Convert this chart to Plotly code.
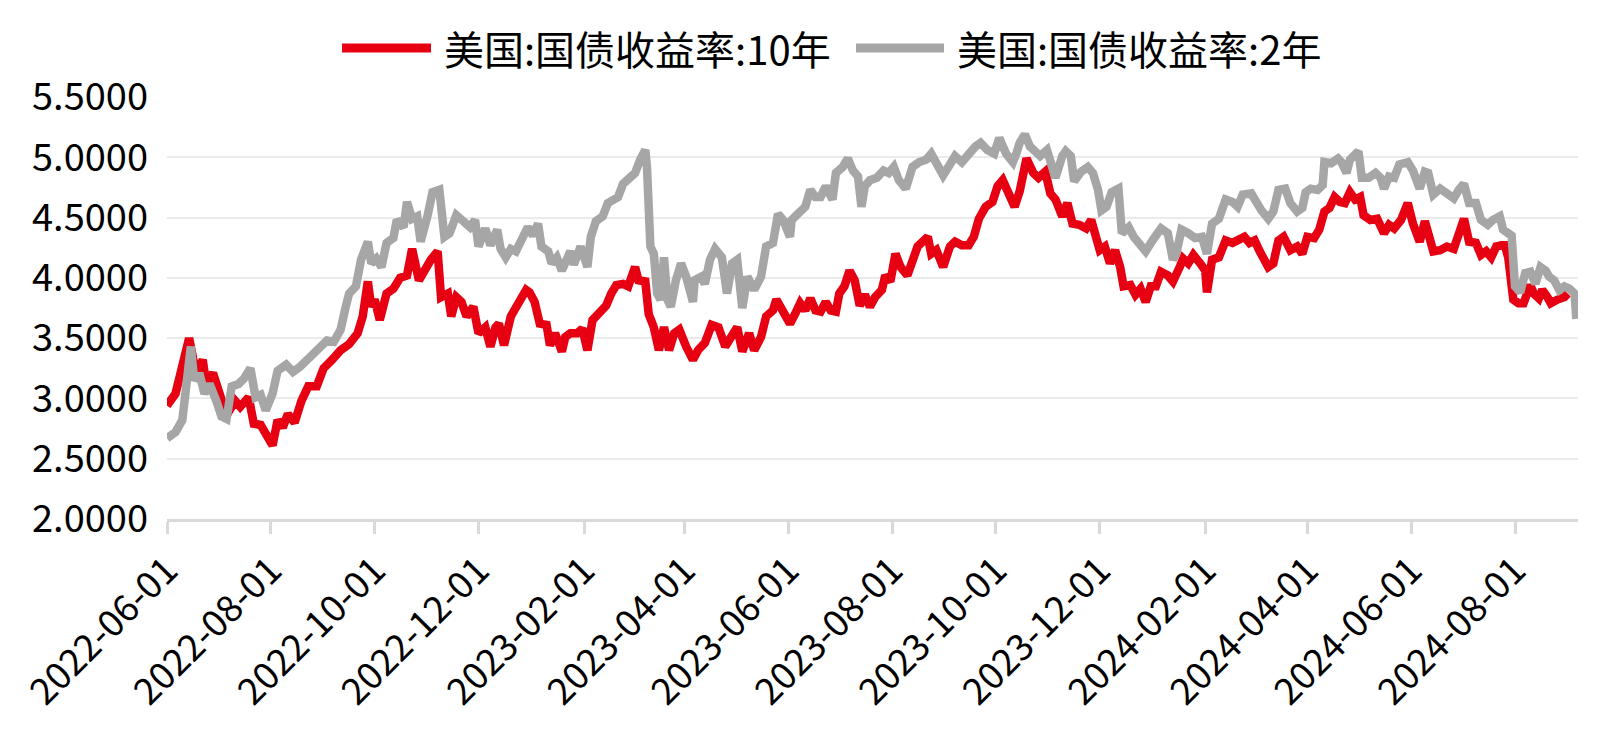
import plotly.graph_objects as go

# ---------------- data ----------------
us10y_dates = [
    "2022-06-01","2022-06-06","2022-06-14","2022-06-18","2022-06-22","2022-06-24","2022-06-28","2022-07-01",
    "2022-07-06","2022-07-11","2022-07-14","2022-07-19","2022-07-22","2022-07-26","2022-07-30","2022-08-02",
    "2022-08-05","2022-08-08","2022-08-11","2022-08-15","2022-08-19","2022-08-23","2022-08-28","2022-09-01",
    "2022-09-06","2022-09-11","2022-09-16","2022-09-21","2022-09-24","2022-09-27","2022-09-29","2022-10-01",
    "2022-10-04","2022-10-08","2022-10-12","2022-10-16","2022-10-20","2022-10-23","2022-10-27","2022-10-31",
    "2022-11-03","2022-11-07","2022-11-09","2022-11-13","2022-11-15","2022-11-18","2022-11-21","2022-11-24",
    "2022-11-28","2022-12-01","2022-12-05","2022-12-08","2022-12-11","2022-12-13","2022-12-16","2022-12-20",
    "2022-12-24","2022-12-29","2022-12-31","2023-01-03","2023-01-06","2023-01-10","2023-01-12","2023-01-15",
    "2023-01-19","2023-01-21","2023-01-24","2023-01-28","2023-01-31","2023-02-03","2023-02-06","2023-02-10",
    "2023-02-14","2023-02-17","2023-02-20","2023-02-24","2023-02-27","2023-03-03","2023-03-05","2023-03-09",
    "2023-03-11","2023-03-14","2023-03-17","2023-03-20","2023-03-23","2023-03-26","2023-03-29","2023-04-02",
    "2023-04-06","2023-04-09","2023-04-13","2023-04-17","2023-04-21","2023-04-25","2023-04-29","2023-05-02",
    "2023-05-05","2023-05-09","2023-05-12","2023-05-16","2023-05-19","2023-05-23","2023-05-25","2023-05-29",
    "2023-06-02","2023-06-05","2023-06-08","2023-06-11","2023-06-14","2023-06-17","2023-06-20","2023-06-23",
    "2023-06-26","2023-06-29","2023-07-01","2023-07-04","2023-07-07","2023-07-10","2023-07-13","2023-07-16",
    "2023-07-19","2023-07-22","2023-07-26","2023-07-28","2023-07-31","2023-08-03","2023-08-06","2023-08-10",
    "2023-08-13","2023-08-16","2023-08-19","2023-08-22","2023-08-24","2023-08-27","2023-08-31","2023-09-04",
    "2023-09-07","2023-09-11","2023-09-15","2023-09-18","2023-09-21","2023-09-25","2023-09-29","2023-10-02",
    "2023-10-05","2023-10-08","2023-10-12","2023-10-15","2023-10-19","2023-10-23","2023-10-26","2023-10-30",
    "2023-11-02","2023-11-05","2023-11-09","2023-11-12","2023-11-15","2023-11-19","2023-11-23","2023-11-26",
    "2023-11-29","2023-12-01","2023-12-04","2023-12-07","2023-12-10","2023-12-13","2023-12-15","2023-12-19",
    "2023-12-22","2023-12-25","2023-12-28","2023-12-31","2024-01-03","2024-01-06","2024-01-10","2024-01-13",
    "2024-01-17","2024-01-19","2024-01-22","2024-01-25","2024-01-29","2024-02-01","2024-02-02","2024-02-05",
    "2024-02-09","2024-02-13","2024-02-17","2024-02-21","2024-02-24","2024-02-27","2024-03-01","2024-03-04",
    "2024-03-06","2024-03-09","2024-03-12","2024-03-15","2024-03-18","2024-03-22","2024-03-26","2024-03-29",
    "2024-04-01","2024-04-05","2024-04-08","2024-04-11","2024-04-14","2024-04-17","2024-04-20","2024-04-23",
    "2024-04-26","2024-04-29","2024-05-02","2024-05-04","2024-05-08","2024-05-12","2024-05-16","2024-05-19",
    "2024-05-22","2024-05-26","2024-05-30","2024-06-02","2024-06-06","2024-06-09","2024-06-11","2024-06-14",
    "2024-06-18","2024-06-22","2024-06-26","2024-06-28","2024-07-02","2024-07-05","2024-07-09","2024-07-12",
    "2024-07-15","2024-07-18","2024-07-21","2024-07-24","2024-07-26","2024-07-28","2024-07-31","2024-08-03",
    "2024-08-06","2024-08-10","2024-08-12","2024-08-15","2024-08-17","2024-08-20","2024-08-22","2024-08-26",
    "2024-08-30","2024-09-01",
]
us10y_values = [
    2.94,3.04,3.50,3.21,3.32,3.12,3.21,3.07,
    2.86,2.98,2.93,3.01,2.79,2.78,2.68,2.61,
    2.82,2.76,2.87,2.80,2.98,3.10,3.10,3.25,
    3.32,3.40,3.45,3.54,3.68,3.97,3.76,3.82,
    3.65,3.87,3.91,4.00,4.02,4.24,3.98,4.09,
    4.15,4.22,3.84,3.87,3.68,3.84,3.80,3.68,
    3.76,3.54,3.59,3.43,3.59,3.62,3.44,3.68,
    3.77,3.90,3.88,3.80,3.62,3.61,3.44,3.54,
    3.39,3.51,3.54,3.54,3.58,3.40,3.65,3.70,
    3.77,3.87,3.94,3.95,3.93,4.09,3.98,3.97,
    3.70,3.59,3.40,3.59,3.40,3.54,3.57,3.43,
    3.32,3.40,3.46,3.61,3.59,3.43,3.54,3.59,
    3.39,3.54,3.40,3.51,3.68,3.73,3.82,3.72,
    3.62,3.70,3.79,3.73,3.83,3.73,3.72,3.80,
    3.73,3.72,3.87,3.93,4.06,3.98,3.77,3.86,
    3.76,3.84,3.90,4.02,3.97,4.20,4.09,4.02,
    4.17,4.26,4.30,4.34,4.20,4.23,4.09,4.26,
    4.30,4.27,4.27,4.34,4.49,4.59,4.63,4.76,
    4.81,4.71,4.59,4.72,4.99,4.87,4.83,4.88,
    4.70,4.65,4.51,4.62,4.45,4.44,4.41,4.48,
    4.34,4.23,4.26,4.12,4.23,4.09,3.93,3.94,
    3.86,3.91,3.80,3.93,3.93,4.05,4.02,3.97,
    4.09,4.16,4.12,4.19,4.12,4.06,3.88,4.15,
    4.17,4.31,4.29,4.31,4.34,4.29,4.31,4.22,
    4.15,4.09,4.12,4.31,4.34,4.23,4.26,4.20,
    4.34,4.33,4.40,4.55,4.58,4.67,4.63,4.62,
    4.71,4.65,4.67,4.52,4.48,4.49,4.37,4.44,
    4.41,4.48,4.62,4.45,4.30,4.47,4.37,4.22,
    4.23,4.26,4.24,4.34,4.49,4.30,4.29,4.19,
    4.22,4.17,4.26,4.27,4.27,4.17,3.82,3.79,
    3.79,3.94,3.87,3.83,3.90,3.84,3.79,3.82,
    3.84,3.87,
]

us2y_dates = [
    "2022-06-01","2022-06-06","2022-06-10","2022-06-13","2022-06-15","2022-06-17","2022-06-20","2022-06-23",
    "2022-06-26","2022-06-30","2022-07-03","2022-07-06","2022-07-09","2022-07-13","2022-07-16","2022-07-20",
    "2022-07-23","2022-07-26","2022-07-29","2022-08-02","2022-08-05","2022-08-10","2022-08-14","2022-08-18",
    "2022-08-22","2022-08-26","2022-08-30","2022-09-03","2022-09-07","2022-09-11","2022-09-14","2022-09-16",
    "2022-09-20","2022-09-23","2022-09-27","2022-09-29","2022-10-02","2022-10-05","2022-10-08","2022-10-12",
    "2022-10-14","2022-10-18","2022-10-20","2022-10-23","2022-10-26","2022-10-28","2022-11-01","2022-11-04",
    "2022-11-08","2022-11-11","2022-11-14","2022-11-18","2022-11-22","2022-11-26","2022-11-29","2022-12-01",
    "2022-12-05","2022-12-08","2022-12-12","2022-12-14","2022-12-17","2022-12-20","2022-12-23","2022-12-27",
    "2022-12-30","2023-01-02","2023-01-05","2023-01-07","2023-01-11","2023-01-13","2023-01-16","2023-01-19",
    "2023-01-22","2023-01-24","2023-01-26","2023-01-28","2023-01-30","2023-02-03","2023-02-05","2023-02-08",
    "2023-02-12","2023-02-15","2023-02-18","2023-02-21","2023-02-24","2023-02-28","2023-03-03","2023-03-06",
    "2023-03-09","2023-03-10","2023-03-12","2023-03-14","2023-03-16","2023-03-18","2023-03-20","2023-03-22",
    "2023-03-24","2023-03-27","2023-03-30","2023-04-02","2023-04-06","2023-04-07","2023-04-11","2023-04-13",
    "2023-04-16","2023-04-19","2023-04-23","2023-04-26","2023-04-29","2023-05-02","2023-05-05","2023-05-08",
    "2023-05-12","2023-05-16","2023-05-19","2023-05-23","2023-05-26","2023-05-29","2023-06-02","2023-06-03",
    "2023-06-07","2023-06-11","2023-06-14","2023-06-17","2023-06-20","2023-06-23","2023-06-27","2023-06-29",
    "2023-07-03","2023-07-06","2023-07-09","2023-07-12","2023-07-14","2023-07-16","2023-07-19","2023-07-23",
    "2023-07-27","2023-07-30","2023-08-02","2023-08-05","2023-08-09","2023-08-13","2023-08-17","2023-08-21",
    "2023-08-24","2023-08-27","2023-08-31","2023-09-04","2023-09-07","2023-09-11","2023-09-15","2023-09-19",
    "2023-09-22","2023-09-26","2023-09-30","2023-10-03","2023-10-07","2023-10-11","2023-10-13","2023-10-15",
    "2023-10-18","2023-10-21","2023-10-24","2023-10-27","2023-10-31","2023-11-03","2023-11-05","2023-11-09",
    "2023-11-11","2023-11-14","2023-11-16","2023-11-20","2023-11-24","2023-11-27","2023-11-30","2023-12-02",
    "2023-12-05","2023-12-08","2023-12-12","2023-12-14","2023-12-18","2023-12-21","2023-12-25","2023-12-28",
    "2024-01-01","2024-01-06","2024-01-10","2024-01-13","2024-01-15","2024-01-18","2024-01-22","2024-01-26",
    "2024-01-30","2024-02-02","2024-02-05","2024-02-09","2024-02-13","2024-02-17","2024-02-20","2024-02-23",
    "2024-02-28","2024-03-02","2024-03-05","2024-03-09","2024-03-12","2024-03-15","2024-03-19","2024-03-22",
    "2024-03-26","2024-03-29","2024-03-31","2024-04-03","2024-04-07","2024-04-10","2024-04-11","2024-04-15",
    "2024-04-19","2024-04-21","2024-04-24","2024-04-26","2024-05-01","2024-05-03","2024-05-07","2024-05-11",
    "2024-05-14","2024-05-16","2024-05-19","2024-05-22","2024-05-25","2024-05-30","2024-06-02","2024-06-06",
    "2024-06-09","2024-06-11","2024-06-14","2024-06-18","2024-06-22","2024-06-26","2024-06-29","2024-07-02",
    "2024-07-05","2024-07-09","2024-07-12","2024-07-16","2024-07-19","2024-07-23","2024-07-25","2024-07-27",
    "2024-07-30","2024-08-01","2024-08-04","2024-08-07","2024-08-10","2024-08-13","2024-08-16","2024-08-19",
    "2024-08-21","2024-08-24","2024-08-27","2024-08-30","2024-09-02","2024-09-05","2024-09-06",
]
us2y_values = [
    2.67,2.72,2.82,3.21,3.43,3.15,3.21,3.04,
    3.12,2.98,2.85,2.83,3.10,3.12,3.16,3.25,
    3.01,3.03,2.90,3.04,3.23,3.28,3.22,3.26,
    3.32,3.37,3.43,3.48,3.47,3.57,3.76,3.87,
    3.93,4.15,4.30,4.12,4.16,4.09,4.29,4.33,
    4.48,4.42,4.63,4.49,4.51,4.30,4.51,4.71,
    4.73,4.34,4.37,4.52,4.47,4.42,4.48,4.26,
    4.41,4.27,4.40,4.24,4.17,4.24,4.22,4.33,
    4.42,4.35,4.45,4.26,4.22,4.12,4.17,4.06,
    4.15,4.22,4.11,4.20,4.26,4.09,4.34,4.47,
    4.51,4.62,4.65,4.67,4.78,4.84,4.87,4.98,
    5.06,4.92,4.26,4.20,3.87,3.82,4.17,3.82,
    3.76,3.98,4.12,4.01,3.80,3.98,4.01,3.95,
    4.15,4.24,4.17,3.87,4.12,4.15,3.75,4.01,
    3.90,4.01,4.26,4.29,4.53,4.48,4.34,4.48,
    4.53,4.59,4.73,4.67,4.67,4.76,4.65,4.87,
    4.92,4.99,4.89,4.84,4.59,4.76,4.81,4.83,
    4.89,4.87,4.92,4.81,4.74,4.92,4.96,4.98,
    5.03,4.95,4.85,4.94,5.01,4.96,5.03,5.09,
    5.12,5.06,5.03,5.16,5.03,4.96,5.03,5.12,
    5.19,5.09,5.05,5.01,5.06,4.95,4.83,5.01,
    5.05,5.01,4.80,4.88,4.92,4.87,4.73,4.56,
    4.59,4.71,4.74,4.37,4.42,4.34,4.26,4.22,
    4.31,4.41,4.37,4.15,4.20,4.40,4.37,4.33,
    4.34,4.20,4.45,4.49,4.65,4.63,4.59,4.69,
    4.70,4.62,4.56,4.49,4.55,4.73,4.74,4.62,
    4.55,4.58,4.71,4.74,4.73,4.77,4.96,4.95,
    4.99,4.96,4.87,4.98,5.05,4.83,4.83,4.87,
    4.83,4.74,4.84,4.83,4.94,4.96,4.89,4.74,
    4.88,4.87,4.69,4.74,4.70,4.66,4.73,4.78,
    4.62,4.62,4.48,4.44,4.48,4.51,4.40,4.37,
    4.35,3.93,3.88,4.04,4.05,3.95,4.09,4.06,
    4.01,3.98,3.90,3.93,3.91,3.87,3.66,
]

series_names = ["美国:国债收益率:10年", "美国:国债收益率:2年"]
tick_dates = ["2022-06-01","2022-08-01","2022-10-01","2022-12-01","2023-02-01","2023-04-01","2023-06-01",
              "2023-08-01","2023-10-01","2023-12-01","2024-02-01","2024-04-01","2024-06-01","2024-08-01"]
y_ticks = [2.0, 2.5, 3.0, 3.5, 4.0, 4.5, 5.0, 5.5]

# ---------------- style ----------------
RED = "#E60012"
GRAY = "#A6A6A6"
FONT = "Noto Sans CJK SC"
W, H = 1613, 732
L, R, T, B = 167, 35, 97, 213
pw, ph = W - L - R, H - T - B

fig = go.Figure()
fig.add_trace(go.Scatter(x=us10y_dates, y=us10y_values, mode="lines", name=series_names[0],
                         line=dict(color=RED, width=8.5), showlegend=False))
fig.add_trace(go.Scatter(x=us2y_dates, y=us2y_values, mode="lines", name=series_names[1],
                         line=dict(color=GRAY, width=8.5), showlegend=False))

# custom legend (long line swatches like the original)
def px2paper_x(px):
    return (px - L) / pw

def py2paper_y(py):
    return (H - B - py) / ph

legend_y = 48
items = [(series_names[0], RED, 342, 431, 442), (series_names[1], GRAY, 856, 944, 955)]
for name, col, x0, x1, tx in items:
    fig.add_shape(type="line", xref="paper", yref="paper",
                  x0=px2paper_x(x0), x1=px2paper_x(x1),
                  y0=py2paper_y(legend_y), y1=py2paper_y(legend_y),
                  line=dict(color=col, width=9))
    fig.add_annotation(xref="paper", yref="paper", x=px2paper_x(tx), y=py2paper_y(legend_y),
                       text=name, showarrow=False, xanchor="left", yanchor="middle",
                       font=dict(family=FONT, size=40, color="#000000"))

fig.update_layout(
    width=W, height=H,
    margin=dict(l=L, r=R, t=T, b=B, autoexpand=False),
    paper_bgcolor="white", plot_bgcolor="white",
    font=dict(family=FONT, size=38, color="#000000"),
    showlegend=False,
)
fig.update_xaxes(
    type="date", range=["2022-06-01", "2024-09-07"],
    tickvals=tick_dates, ticktext=tick_dates, tickangle=-45,
    tickfont=dict(family=FONT, size=37, color="#000000"),
    showgrid=False, showline=True, linecolor="#D9D9D9", linewidth=2.5,
    ticks="outside", ticklen=12, tickwidth=2.5, tickcolor="#D9D9D9",
    zeroline=False,
)
fig.update_yaxes(
    range=[2.0, 5.5], tickvals=y_ticks, tickformat=".4f",
    tickfont=dict(family=FONT, size=38, color="#000000"),
    showgrid=True, gridcolor="#EBEBEB", gridwidth=2,
    showline=False, zeroline=False, ticks="", ticklabelstandoff=18,
)

fig.write_html("out.html")
